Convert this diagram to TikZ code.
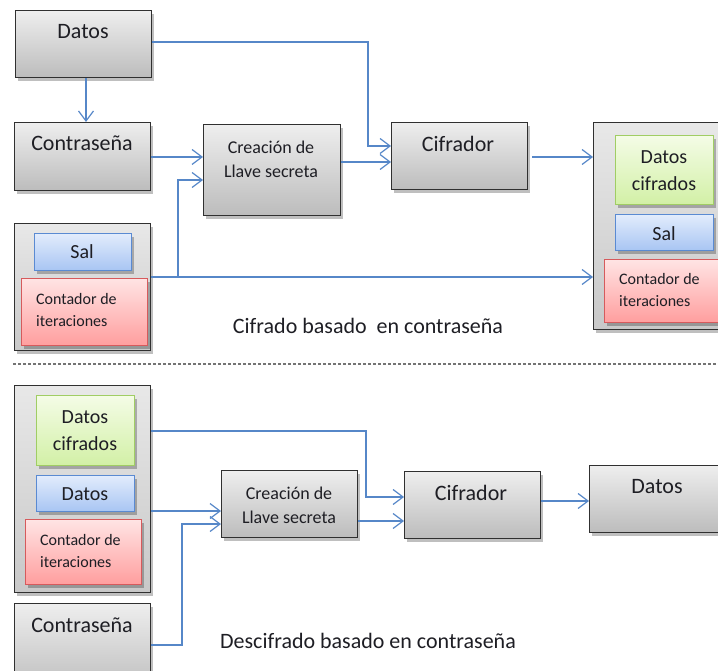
\documentclass[tikz,border=0pt]{standalone}
\usepackage{fontspec}
\setmainfont{Carlito}
\usetikzlibrary{arrows.meta,shadows}

\definecolor{lnk}{RGB}{86,135,200}
\definecolor{txt}{RGB}{30,30,36}
\definecolor{boxline}{RGB}{48,48,48}
\definecolor{gtop}{RGB}{238,238,238}
\definecolor{gbot}{RGB}{188,188,188}
\definecolor{ctop}{RGB}{232,232,232}
\definecolor{cbot}{RGB}{200,200,200}
\definecolor{grtop}{RGB}{244,252,230}
\definecolor{grbot}{RGB}{210,240,166}
\definecolor{grline}{RGB}{160,205,100}
\definecolor{bltop}{RGB}{226,236,252}
\definecolor{blbot}{RGB}{168,197,243}
\definecolor{blline}{RGB}{90,138,210}
\definecolor{rdtop}{RGB}{255,228,228}
\definecolor{rdbot}{RGB}{255,158,158}
\definecolor{rdline}{RGB}{214,90,92}

\newcommand{\fbig}{\fontsize{22}{26}\selectfont}
\newcommand{\finner}{\fontsize{20}{27}\selectfont}
\newcommand{\fkey}{\fontsize{18}{24}\selectfont}
\newcommand{\fcount}{\fontsize{16}{22}\selectfont}

\begin{document}
\begin{tikzpicture}[x=1pt,y=-1pt,
  sz/.style 2 args={minimum width=#1pt, minimum height=#2pt},
  shad/.style={drop shadow={shadow xshift=2pt,shadow yshift=-3pt,opacity=.25,fill=black}},
  base/.style={rectangle, inner sep=0pt, anchor=north west, shad},
  graybox/.style={base, draw=boxline, line width=1.4pt, top color=gtop, bottom color=gbot},
  holder/.style={base, draw=boxline, line width=1.4pt, top color=ctop, bottom color=cbot},
  greenbox/.style={base, draw=grline, line width=1.1pt, top color=grtop, bottom color=grbot},
  bluebox/.style={base, draw=blline, line width=1.1pt, top color=bltop, bottom color=blbot},
  redbox/.style={base, draw=rdline, line width=1.1pt, top color=rdtop, bottom color=rdbot},
  lbl/.style={inner sep=0pt, text=txt, align=center},
  link/.style={draw=lnk, line width=1.2pt, -{Straight Barb[length=10pt,width=15pt]}},
  plain/.style={draw=lnk, line width=1.2pt},
  sep/.style={draw=black!55, line width=2pt, dash pattern=on 3pt off 2pt}
]
\useasboundingbox (0,0) rectangle (718,671);
\clip (0,0) rectangle (718,671);

% ---------- encryption ----------
\node[graybox, sz={136}{67}] (datos1) at (15,10) {};
\node[lbl, font=\fbig] (datos1t) at (83,32) {Datos};

\node[graybox, sz={136}{68}] (pass1) at (14,122) {};
\node[lbl, font=\fbig] (pass1t) at (82,143) {Contraseña};

\node[graybox, sz={137}{91}] (key1) at (203,124) {};
\node[lbl, font=\fkey] (key1t) at (271,159) {Creación de\\Llave secreta};

\node[graybox, sz={136}{67}] (cif1) at (391,122) {};
\node[lbl, font=\fbig] (cif1t) at (458,144) {Cifrador};

\node[holder, sz={136}{127}] (inbox1) at (14,223) {};
\node[bluebox, sz={97}{37}] (sal1) at (34,233) {};
\node[lbl, font=\finner] (sal1t) at (82,252) {Sal};
\node[redbox, sz={126}{67}] (cnt1) at (21,278) {};
\node[lbl, font=\fcount, align=left, anchor=west] (cnt1t) at (36,310) {Contador de\\iteraciones};

\node[holder, sz={150}{207}] (outbox1) at (593,122) {};
\node[greenbox, sz={98}{69}] (dc1) at (615,135) {};
\node[lbl, font=\finner, align=center] (dc1t) at (664,171) {Datos\\cifrados};
\node[bluebox, sz={98}{36}] (sal2) at (615,214) {};
\node[lbl, font=\finner] (sal2t) at (664,234) {Sal};
\node[redbox, sz={136}{63}] (cntr) at (604,259) {};
\node[lbl, font=\fcount, align=left, anchor=west] (cntrt) at (619,290) {Contador de\\iteraciones};

\node[lbl, font=\fbig] (title1) at (368,326) {Cifrado basado\ \ en contraseña};

% connectors
\draw[link] (datos1.south -| 86,0) -- (pass1.north -| 86,0);
\draw[link] (datos1.east |- 0,42) -| (368,146) -- (cif1.west |- 0,146);
\draw[link] (pass1.east |- 0,157) -- (key1.west |- 0,157);
\draw[link] (inbox1.east |- 0,277) -| (178,180) -- (key1.west |- 0,180);
\draw[link] (inbox1.east |- 0,277) -- (outbox1.west |- 0,277);
\draw[link] (key1.east |- 0,162) -- (cif1.west |- 0,162);
\draw[link] ([xshift=4pt]cif1.east |- 0,157) -- (outbox1.west |- 0,157);

% ---------- separator ----------
\coordinate (sepL) at (13,364);
\coordinate (sepR) at (718,364);
\draw[sep] (sepL) -- (sepR);

% ---------- decryption ----------
\node[holder, sz={136}{207}] (inbox2) at (14,385) {};
\node[greenbox, sz={98}{70}] (dc2) at (36,395) {};
\node[lbl, font=\finner, align=center] (dc2t) at (85,431) {Datos\\cifrados};
\node[bluebox, sz={98}{36}] (dat2) at (36,475) {};
\node[lbl, font=\finner] (dat2t) at (85,494) {Datos};
\node[redbox, sz={116}{65}] (cnt2) at (25,519) {};
\node[lbl, font=\fcount, align=left, anchor=west] (cnt2t) at (40,551) {Contador de\\iteraciones};

\node[graybox, sz={136}{90}] (pass2) at (14,603) {};
\node[lbl, font=\fbig] (pass2t) at (82,625) {Contraseña};

\node[graybox, sz={136}{67}] (key2) at (221,470) {};
\node[lbl, font=\fkey] (key2t) at (289,505) {Creación de\\Llave secreta};

\node[graybox, sz={136}{67}] (cif2) at (404,471) {};
\node[lbl, font=\fbig] (cif2t) at (471,493) {Cifrador};

\node[graybox, sz={150}{67}] (datos2) at (589,465) {};
\node[lbl, font=\fbig] (datos2t) at (657,487) {Datos};

\node[lbl, font=\fbig] (title2) at (368,641) {Descifrado basado en contraseña};

% connectors
\draw[link] (inbox2.east |- 0,431) -| (366,497) -- (cif2.west |- 0,497);
\draw[link] (inbox2.east |- 0,511) -- (key2.west |- 0,511);
\draw[link] (pass2.east |- 0,645) -| (182,524) -- (key2.west |- 0,524);
\draw[link] (key2.east |- 0,521) -- (cif2.west |- 0,521);
\draw[link] (cif2.east |- 0,501) -- (datos2.west |- 0,501);
\end{tikzpicture}
\end{document}
